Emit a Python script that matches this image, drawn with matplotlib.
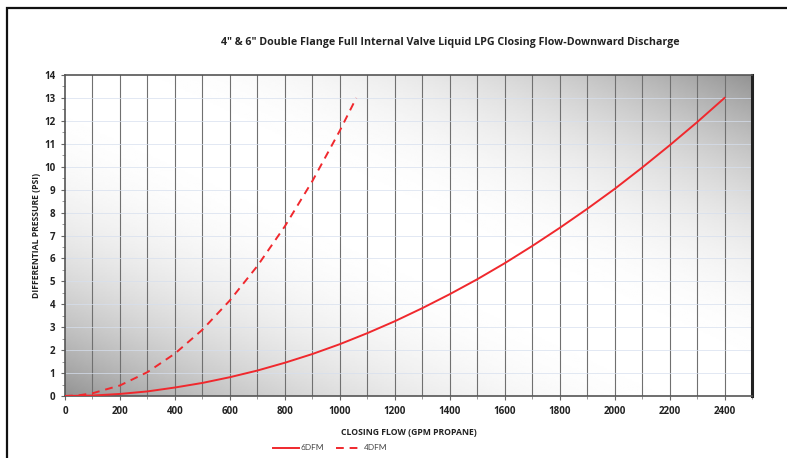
import numpy as np
import matplotlib
matplotlib.use("Agg")
import matplotlib.pyplot as plt
from matplotlib.patches import Rectangle

plt.rcParams['font.family'] = ['Open Sans', 'DejaVu Sans']
plt.rcParams['font.weight'] = 'bold'

# 6DFM (solid)
flow_6 = [0, 100, 200, 300, 400, 500, 600, 700, 800, 900, 1000, 1100, 1200,
          1300, 1400, 1500, 1600, 1700, 1800, 1900, 2000, 2100, 2200, 2300, 2400]
dp_6 = [0.0, 0.02, 0.09, 0.2, 0.37, 0.57, 0.82, 1.11, 1.45, 1.83, 2.26, 2.74, 3.26,
        3.83, 4.44, 5.09, 5.79, 6.54, 7.33, 8.16, 9.03, 9.96, 10.93, 11.94, 13.0]

# 4DFM (dashed)
flow_4 = [0, 50, 100, 200, 300, 400, 500, 600, 700, 800, 900, 1000, 1060]
dp_4 = [0.0, 0.03, 0.12, 0.46, 1.04, 1.85, 2.89, 4.17, 5.67, 7.4, 9.37, 11.57, 13.0]

red = '#f0282d'

fig = plt.figure(figsize=(7.87, 4.58), dpi=100)
ax = fig.add_axes([65/787, 1-396/458, 687/787, 321/458])

# shaded background of the plot area
u = np.linspace(0, 1, 300)
v = np.linspace(1, 0, 200)
U, V = np.meshgrid(u, v)
d = np.abs(U - (1 - V))
shade = 1 - 0.42 * d**2.3
ax.imshow(shade, extent=[0, 1, 0, 1], transform=ax.transAxes, cmap='gray',
          vmin=0, vmax=1, aspect='auto', zorder=0, interpolation='bilinear')

ax.set_xlim(0, 2500)
ax.set_ylim(0, 14)

for x in range(100, 2500, 100):
    ax.axvline(x, color='#707070', lw=0.8, zorder=1)
for y in range(1, 14):
    ax.axhline(y, color='#d6dfee', lw=0.5, zorder=1)

ax.plot(flow_6, dp_6, color=red, lw=1.4, label='6DFM', zorder=3)
ax.plot(flow_4, dp_4, color=red, lw=1.4, ls=(0, (4, 3)), label='4DFM', zorder=3)

ax.set_xticks(range(0, 2401, 200))
ax.set_xticks(range(0, 2501, 100), minor=True)
ax.set_yticks(range(0, 15))
ax.set_yticks(np.arange(0, 14.01, 0.5), minor=True)
ax.tick_params(axis='both', which='major', labelsize=7, length=3, color='#666666',
               pad=4, labelcolor='#222222')
ax.tick_params(axis='both', which='minor', length=2, color='#888888')

for s in ['left', 'bottom', 'top']:
    ax.spines[s].set_color('#555555')
    ax.spines[s].set_linewidth(1.2)
ax.spines['right'].set_color('#222222')
ax.spines['right'].set_linewidth(2.2)

ax.set_xlabel('CLOSING FLOW (GPM PROPANE)', fontsize=6.2, fontweight='bold',
              color='#222222', labelpad=8)
ax.set_ylabel('DIFFERENTIAL PRESSURE (PSI)', fontsize=6.2, fontweight='bold',
              color='#222222', labelpad=2)

fig.text(450/787, 1-42/458,
         '4" & 6" Double Flange Full Internal Valve Liquid LPG Closing Flow-Downward Discharge',
         ha='center', va='center', fontsize=7.7, color='#222222')

leg = fig.legend(loc='center', bbox_to_anchor=(330/787, 1-448/458), ncol=2, frameon=False,
                 prop={'family': 'Lato', 'size': 6, 'weight': 'normal'}, handlelength=3.2,
                 handletextpad=0.1, columnspacing=1.5, labelcolor='#444444')

fig.patches.append(Rectangle((7/787, -0.05), 1.05, 1.05 - 8/458,
                             transform=fig.transFigure, fill=False, lw=1.6,
                             edgecolor='#111111', clip_on=False))

fig.savefig('out.png', dpi=100)
